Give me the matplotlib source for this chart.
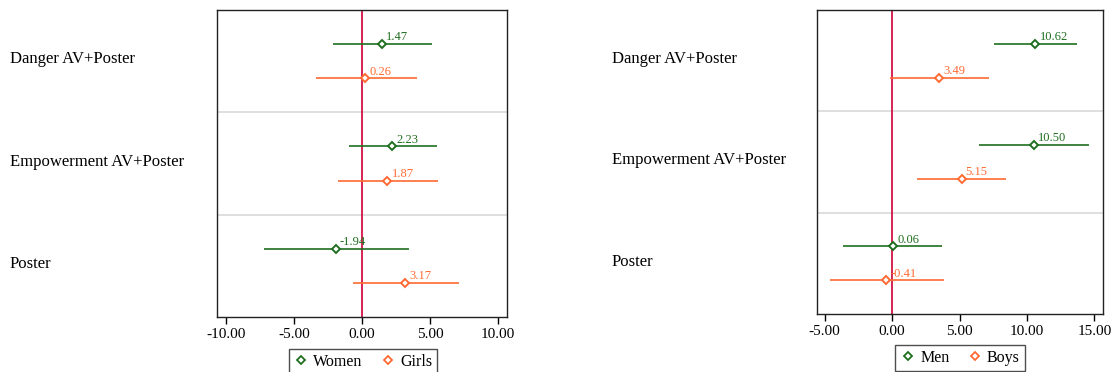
import numpy as np
import matplotlib
matplotlib.use("Agg")
import matplotlib.pyplot as plt
from matplotlib.transforms import blended_transform_factory
from matplotlib.lines import Line2D

plt.rcParams['font.family'] = ['Liberation Serif', 'DejaVu Serif']

groups = ["Danger AV+Poster", "Empowerment AV+Poster", "Poster"]

# left panel: women / girls
women = [1.47, 2.23, -1.94]
women_lo = [-2.13, -0.96, -7.20]
women_hi = [5.15, 5.50, 3.46]
girls = [0.26, 1.87, 3.17]
girls_lo = [-3.38, -1.76, -0.66]
girls_hi = [4.04, 5.59, 7.13]

# right panel: men / boys
men = [10.62, 10.50, 0.06]
men_lo = [7.56, 6.44, -3.63]
men_hi = [13.70, 14.60, 3.70]
boys = [3.49, 5.15, -0.41]
boys_lo = [-0.15, 1.85, -4.59]
boys_hi = [7.19, 8.44, 3.85]

left_ticks = [-10, -5, 0, 5, 10]
right_ticks = [-5, 0, 5, 10, 15]

GREEN = '#1f6e1f'
ORANGE = '#ff6a33'
RED = '#cc0033'

fig = plt.figure(figsize=(11.12, 3.72), dpi=100)
ax1 = fig.add_axes([0.1951, 0.1478, 0.2608, 0.8253])
ax2 = fig.add_axes([0.7347, 0.1559, 0.2572, 0.8172])


def panel(ax, s1, lo1, hi1, s2, lo2, hi2, names, ticks, xlim, label_x, leg_box):
    n = len(groups)
    y_top = np.array([3 * (n - i) - 1 for i in range(n)], dtype=float)
    y_bot = y_top - 1
    for sep in range(1, n):
        ax.axhline(3 * sep, color='#d9d9d9', lw=1.2, zorder=1)
    ax.axvline(0, color=RED, lw=1.2, zorder=2)
    for ys, s, lo, hi, c in [(y_top, s1, lo1, hi1, GREEN), (y_bot, s2, lo2, hi2, ORANGE)]:
        ax.hlines(ys, lo, hi, color=c, lw=1.2, zorder=3)
        ax.plot(s, ys, ls='none', marker='D', ms=4.5, mfc='white', mec=c, mew=1.4, zorder=4)
        for x, y in zip(s, ys):
            ax.annotate('%.2f' % x, (x, y), xytext=(3, 0.5), textcoords='offset points',
                        color=c, fontsize=9, va='bottom', ha='left', zorder=5)
    ax.set_ylim(0, 3 * n)
    ax.set_xlim(*xlim)
    ax.set_yticks([])
    ax.set_xticks(ticks)
    ax.set_xticklabels(['%.2f' % t for t in ticks], fontsize=11)
    ax.tick_params(axis='x', direction='out', length=5, width=1, pad=3)
    for sp in ax.spines.values():
        sp.set_color('#222222')
        sp.set_linewidth(1)
    trans = blended_transform_factory(fig.transFigure, ax.transData)
    for i, g in enumerate(groups):
        ax.text(label_x, y_top[i] - 0.45, g, transform=trans, fontsize=12,
                va='center', ha='left', clip_on=False)
    handles = [Line2D([], [], ls='none', marker='D', ms=4, mfc='white', mec=GREEN, mew=1.3),
               Line2D([], [], ls='none', marker='D', ms=4, mfc='white', mec=ORANGE, mew=1.3)]
    leg = fig.legend(handles, names, loc='upper center', bbox_to_anchor=leg_box, ncol=2,
                     fontsize=11.5, frameon=True, fancybox=False, edgecolor='#222222',
                     handlelength=1.0, handletextpad=0.25, columnspacing=1.1,
                     borderpad=0.3, borderaxespad=0)
    leg.get_frame().set_linewidth(1)


panel(ax1, women, women_lo, women_hi, girls, girls_lo, girls_hi,
      ['Women', 'Girls'], left_ticks, (-10.66, 10.66), 10 / 1112, (363 / 1112, 1 - 349 / 372))
panel(ax2, men, men_lo, men_hi, boys, boys_lo, boys_hi,
      ['Men', 'Boys'], right_ticks, (-5.56, 15.63), 612 / 1112, (960 / 1112, 1 - 345 / 372))

fig.savefig('out.png', dpi=100)
